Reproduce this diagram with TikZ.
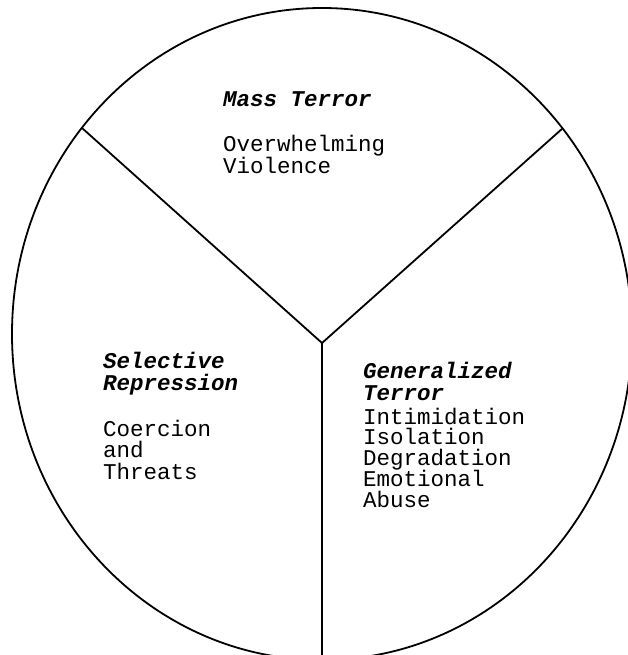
\documentclass[tikz,border=0pt]{standalone}
\usepackage{fontspec}
\setmonofont{Liberation Mono}
\begin{document}
\begin{tikzpicture}[x=1pt,y=-1pt,
  outline/.style={line width=1.8pt,black},
  heading/.style={font=\ttfamily\bfseries\itshape\fontsize{22.5}{21.5}\selectfont,inner sep=0pt,anchor=base west},
  body/.style={font=\ttfamily\fontsize{22.5}{21.5}\selectfont,inner sep=0pt,anchor=base west}]
  \useasboundingbox (0,0) rectangle (628,655);
  \clip (0,0) rectangle (628,655);
  % outer ellipse of the three-part diagram
  \draw[outline] (322,334) ellipse [x radius=310, y radius=326];
  % dividing spokes
  \coordinate (hub) at (322,343);
  \coordinate (nw) at (82,128);
  \coordinate (ne) at (563,128);
  \coordinate (south) at (322,662);
  \draw[outline] (nw) -- (hub) -- (ne);
  \draw[outline] (hub) -- (south);
  % top sector
  \node[heading] (mass) at (223,107) {Mass Terror};
  \node[body] (mass-1) at (223,152) {Overwhelming};
  \node[body] (mass-2) at (223,173) {Violence};
  % left sector
  \node[heading] (sel-1) at (103,368) {Selective};
  \node[heading] (sel-2) at (103,390) {Repression};
  \foreach \txt [count=\i] in {Coercion,and,Threats}
    \node[body] (selb-\i) at (103,{436+21.5*(\i-1)}) {\txt};
  % right sector
  \node[heading] (gen-1) at (363,378) {Generalized};
  \node[heading] (gen-2) at (363,400) {Terror};
  \foreach \txt [count=\i] in {Intimidation,Isolation,Degradation,Emotional,Abuse}
    \node[body] (genb-\i) at (363,{424+20.8*(\i-1)}) {\txt};
\end{tikzpicture}
\end{document}
